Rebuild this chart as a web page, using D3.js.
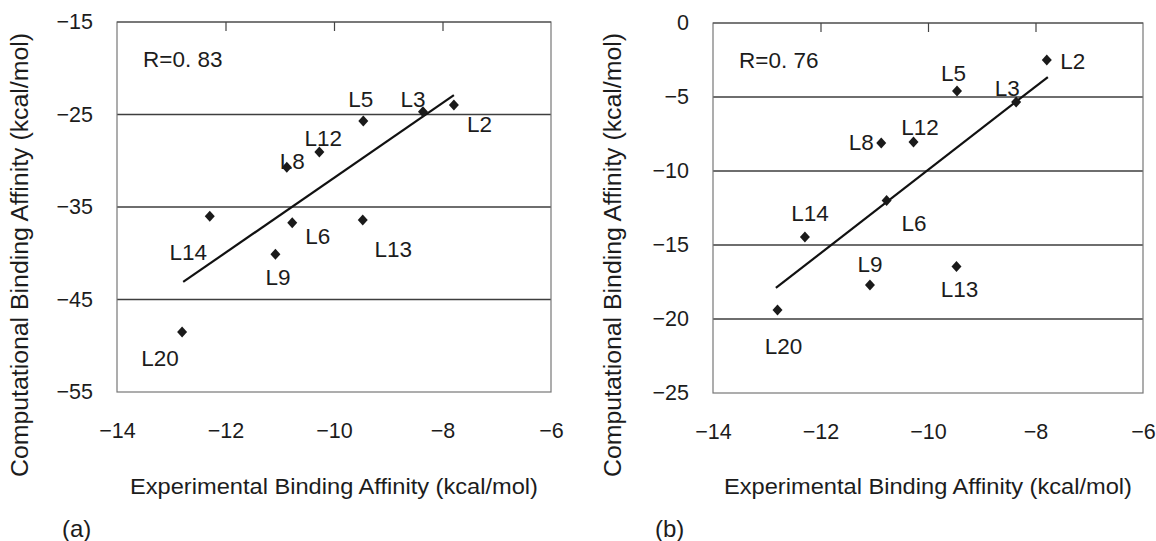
<!DOCTYPE html>
<html>
<head>
<meta charset="utf-8">
<script src="https://cdn.jsdelivr.net/npm/d3@7"></script>
<style>
  html, body { margin: 0; padding: 0; background: #fff; }
  svg { display: block; font-family: "Liberation Sans", Arial, sans-serif; }
</style>
</head>
<body>
<svg id="chart" width="1156" height="541"></svg>
<script>
// ---- data ----
const ligands = ["L2", "L3", "L5", "L6", "L8", "L9", "L12", "L13", "L14", "L20"];
const experimental = [-7.79, -8.36, -9.46, -10.77, -10.87, -11.08, -10.27, -9.47, -12.29, -12.80];
const computationalA = [-23.97, -24.7, -25.7, -36.7, -30.7, -40.1, -29.05, -36.4, -36.0, -48.5];
const computationalB = [-2.5, -5.34, -4.6, -12.0, -8.1, -17.7, -8.04, -16.45, -14.46, -19.4];
const fitXA = [-12.78, -7.79];
const fitYA = [-43.1, -22.9];
const fitXB = [-12.83, -7.77];
const fitYB = [-17.9, -3.65];
const xTicks = [-14, -12, -10, -8, -6];
const yTicksA = [-55, -45, -35, -25, -15];
const yTicksB = [-25, -20, -15, -10, -5, 0];
const rTextA = "R=0. 83";
const rTextB = "R=0. 76";
const xTitle = "Experimental Binding Affinity (kcal/mol)";
const yTitle = "Computational Binding Affinity (kcal/mol)";

// ---- label offsets (pixel) ----
const offA = {L2:[25.5,20], L3:[-10,-12.5], L5:[-2.5,-21.5], L6:[25.5,13.5], L8:[5.5,-6],
              L9:[2.5,23], L12:[4,-13], L13:[30.5,29.5], L14:[-21.5,36], L20:[-22,26.5]};
const offB = {L2:[26,1.5], L3:[-9,-13.5], L5:[-3.5,-17.5], L6:[27.5,23], L8:[-20,0],
              L9:[0,-20.5], L12:[6.5,-14.5], L13:[3,23], L14:[5,-24], L20:[6,36.5]};

const svg = d3.select("#chart");
const ink = "#1c1c1c";

const diamond = {
  draw(ctx, size) {
    const w = 5, h = 5.5;
    ctx.moveTo(0, -h); ctx.lineTo(w, 0); ctx.lineTo(0, h); ctx.lineTo(-w, 0); ctx.closePath();
  }
};

function panel(cfg) {
  const {left, right, top, bottom, yDomain, yTicks, comp, fitX, fitY, offs, rText, tag, tagX, yTitleX} = cfg;
  const x = d3.scaleLinear().domain([-14, -6]).range([left, right]);
  const y = d3.scaleLinear().domain(yDomain).range([bottom, top]);
  const g = svg.append("g");

  // gridlines
  g.selectAll("line.grid").data(yTicks.slice(1, -1)).join("line")
    .attr("x1", left).attr("x2", right)
    .attr("y1", d => y(d)).attr("y2", d => y(d))
    .attr("stroke", "#3e3e3e").attr("stroke-width", 1.3);

  // frame
  g.append("rect").attr("x", left).attr("y", top)
    .attr("width", right - left).attr("height", bottom - top)
    .attr("fill", "none").attr("stroke", "#777").attr("stroke-width", 1.2);
  g.append("line").attr("x1", left).attr("x2", right).attr("y1", top).attr("y2", top)
    .attr("stroke", "#444").attr("stroke-width", 1.2);

  // top inner ticks
  const topAxis = g.append("g").attr("transform", `translate(0,${top})`)
    .call(d3.axisTop(x).tickValues(xTicks.slice(1, -1)).tickSize(-9).tickFormat(""));
  topAxis.select(".domain").remove();
  topAxis.selectAll(".tick line").attr("stroke", "#444").attr("stroke-width", 1.2);

  // y tick labels
  const ya = g.append("g").attr("transform", `translate(${left},0)`)
    .call(d3.axisLeft(y).tickValues(yTicks).tickSize(0).tickPadding(24).tickFormat(d3.format("d")));
  ya.select(".domain").remove();
  ya.selectAll("text").attr("font-size", 21.5).attr("fill", ink).attr("font-family", null);

  // x tick labels
  const xa = g.append("g").attr("transform", `translate(0,${bottom})`)
    .call(d3.axisBottom(x).tickValues(xTicks).tickSize(0).tickPadding(31).tickFormat(d3.format("d")));
  xa.select(".domain").remove();
  xa.selectAll("text").attr("font-size", 21.5).attr("fill", ink).attr("font-family", null);

  // fit line
  g.append("line")
    .attr("x1", x(fitX[0])).attr("y1", y(fitY[0]))
    .attr("x2", x(fitX[1])).attr("y2", y(fitY[1]))
    .attr("stroke", "#111").attr("stroke-width", 2.2);

  const pts = ligands.map((l, i) => ({l, ex: experimental[i], c: comp[i]}));
  // points
  g.selectAll("path.pt").data(pts).join("path")
    .attr("d", d3.symbol().type(diamond))
    .attr("transform", d => `translate(${x(d.ex)},${y(d.c)})`)
    .attr("fill", "#1a1a1a");

  // labels
  g.selectAll("text.lab").data(pts).join("text")
    .attr("x", d => x(d.ex) + offs[d.l][0])
    .attr("y", d => y(d.c) + offs[d.l][1])
    .attr("text-anchor", "middle").attr("dominant-baseline", "central")
    .attr("font-size", 22.5).attr("fill", ink)
    .text(d => d.l);

  // R text
  g.append("text").attr("x", left + 26).attr("y", top + 37)
    .attr("dominant-baseline", "central").attr("font-size", 22.5).attr("fill", ink)
    .text(rText);

  // axis titles
  g.append("text").attr("x", (left + right) / 2).attr("y", 486)
    .attr("text-anchor", "middle").attr("dominant-baseline", "central")
    .attr("font-size", 22).attr("fill", ink)
    .attr("textLength", 408).attr("lengthAdjust", "spacingAndGlyphs")
    .text(xTitle);
  g.append("text").attr("transform", `translate(${yTitleX},255) rotate(-90)`)
    .attr("text-anchor", "middle").attr("dominant-baseline", "central")
    .attr("font-size", 23).attr("fill", ink)
    .attr("textLength", 444).attr("lengthAdjust", "spacingAndGlyphs")
    .text(yTitle);

  // panel tag
  g.append("text").attr("x", tagX).attr("y", 528)
    .attr("dominant-baseline", "central").attr("font-size", 24).attr("fill", ink)
    .text(tag);
}

panel({left: 117, right: 551, top: 22, bottom: 392, yDomain: [-55, -15], yTicks: yTicksA,
       comp: computationalA, fitX: fitXA, fitY: fitYA, offs: offA, rText: rTextA,
       tag: "(a)", tagX: 62, yTitleX: 20});
panel({left: 713, right: 1143, top: 23, bottom: 393, yDomain: [-25, 0], yTicks: yTicksB,
       comp: computationalB, fitX: fitXB, fitY: fitYB, offs: offB, rText: rTextB,
       tag: "(b)", tagX: 655, yTitleX: 613});
</script>
</body>
</html>
